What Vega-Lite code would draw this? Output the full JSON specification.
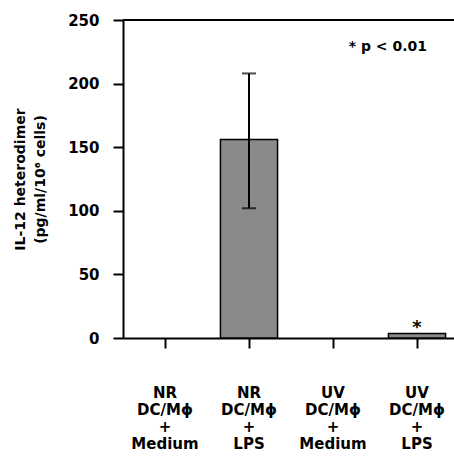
{
  "$schema": "https://vega.github.io/schema/vega-lite/v6.json",
  "autosize": "none",
  "width": 336,
  "height": 318,
  "padding": {"left": 123, "top": 20, "right": 0, "bottom": 125},
  "background": "white",
  "config": {
    "view": {"stroke": null},
    "font": "DejaVu Sans",
    "axis": {"grid": false, "domainColor": "black", "tickColor": "black", "domainWidth": 2, "tickWidth": 2, "labelColor": "black", "titleColor": "black", "labelFont": "DejaVu Sans", "titleFont": "DejaVu Sans", "labelFontWeight": "bold", "titleFontWeight": "bold"}
  },
  "data": {
    "values": [
      {"group": "NR|DC/Mϕ|+|Medium", "value": 0, "lo": null, "hi": null, "sig": false},
      {"group": "NR|DC/Mϕ|+|LPS", "value": 156, "lo": 102, "hi": 208, "sig": false},
      {"group": "UV|DC/Mϕ|+|Medium", "value": 0, "lo": null, "hi": null, "sig": false},
      {"group": "UV|DC/Mϕ|+|LPS", "value": 3.5, "lo": null, "hi": null, "sig": true}
    ]
  },
  "encoding": {
    "x": {
      "field": "group", "type": "nominal", "sort": null,
      "scale": {"paddingInner": 0.32, "paddingOuter": 0.16},
      "axis": {
        "title": null, "labelAngle": 0, "labelFontSize": 15, "labelLineHeight": 17,
        "labelExpr": "split(datum.value, '|')", "labelPadding": 37, "tickSize": 10
      }
    }
  },
  "layer": [
    {
      "data": {"values": [{"top": 250}]},
      "mark": {"type": "rule", "color": "black", "strokeWidth": 2},
      "encoding": {"x": null, "y": {"field": "top", "type": "quantitative"}}
    },
    {
      "mark": {"type": "bar", "fill": "#8a8a8a", "stroke": "black", "strokeWidth": 1.5},
      "encoding": {
        "strokeOpacity": {"condition": {"test": "datum.value == 0", "value": 0}, "value": 1},
        "y": {
          "field": "value", "type": "quantitative",
          "scale": {"domain": [0, 250], "nice": false},
          "axis": {
            "values": [0, 50, 100, 150, 200, 250], "tickSize": 10, "labelPadding": 14, "labelFontSize": 15,
            "title": ["IL-12 heterodimer", "(pg/ml/10⁶ cells)"], "titleFontSize": 14, "titlePadding": 20, "titleLineHeight": 20
          }
        }
      }
    },
    {
      "transform": [{"filter": "datum.hi != null"}],
      "mark": {"type": "rule", "color": "black", "strokeWidth": 2},
      "encoding": {"y": {"field": "lo", "type": "quantitative"}, "y2": {"field": "hi"}}
    },
    {
      "transform": [{"filter": "datum.hi != null"}],
      "mark": {"type": "tick", "color": "black", "size": 14, "thickness": 2, "orient": "horizontal"},
      "encoding": {"y": {"field": "hi", "type": "quantitative"}}
    },
    {
      "transform": [{"filter": "datum.hi != null"}],
      "mark": {"type": "tick", "color": "black", "size": 14, "thickness": 2, "orient": "horizontal"},
      "encoding": {"y": {"field": "lo", "type": "quantitative"}}
    },
    {
      "transform": [{"filter": "datum.sig"}],
      "mark": {"type": "text", "text": "*", "fontSize": 18, "fontWeight": "bold", "color": "black", "dy": 3},
      "encoding": {"y": {"datum": 10}}
    },
    {
      "data": {"values": [{"group": "UV|DC/Mϕ|+|LPS", "label": "* p < 0.01", "ypos": 229}]},
      "mark": {"type": "text", "align": "right", "dx": 10, "fontSize": 14, "fontWeight": "bold", "color": "black"},
      "encoding": {"text": {"field": "label"}, "y": {"field": "ypos", "type": "quantitative"}}
    }
  ]
}
